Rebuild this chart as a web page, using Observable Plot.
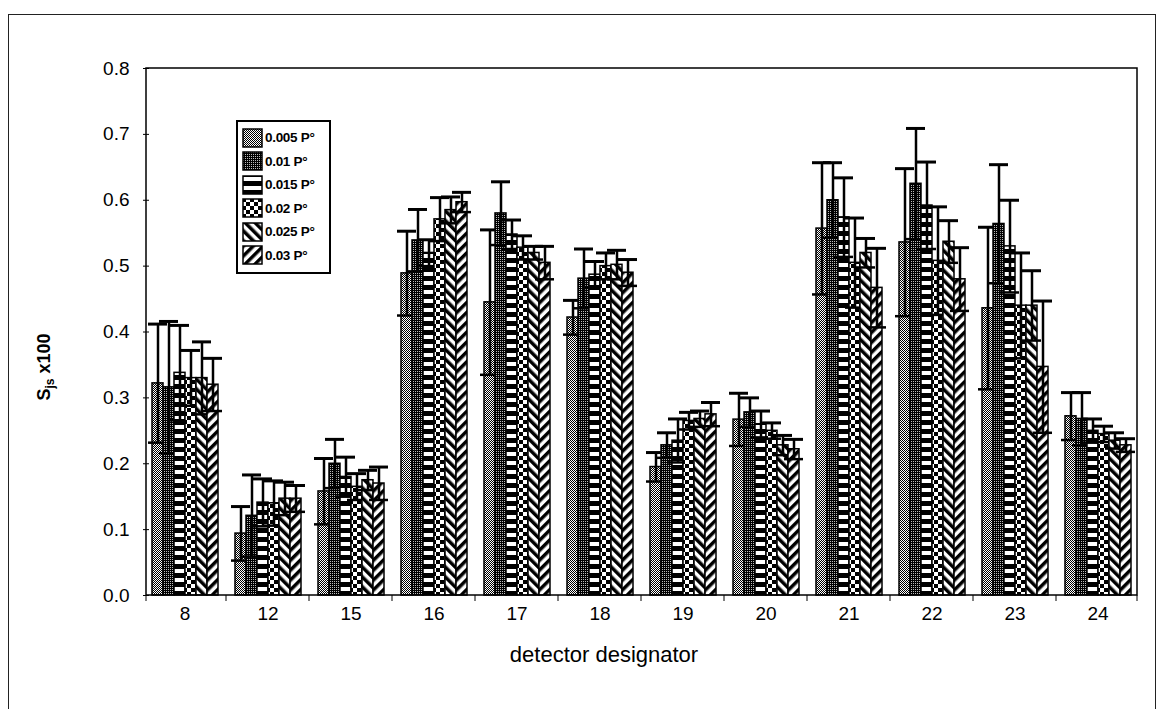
<!DOCTYPE html>
<html>
<head>
<meta charset="utf-8">
<script src="https://cdn.jsdelivr.net/npm/d3@7"></script>
<script src="https://cdn.jsdelivr.net/npm/@observablehq/plot@0.6"></script>
<style>
  body { margin: 0; background: #fff; font-family: "Liberation Sans", Arial, sans-serif; }
  #wrap { position: relative; width: 1165px; height: 709px; overflow: hidden; background: #fff; }
  #outer { position: absolute; left: 8px; top: 14px; width: 1148px; height: 720px; border: 1px solid #222; box-sizing: border-box; }
  #chart { position: absolute; left: 0; top: 0; }
  #legend { position: absolute; left: 236px; top: 120px; width: 95px; height: 154px; border: 2px solid #000; background: #fff; box-sizing: border-box; padding-top: 4px; }
  .lrow { display: flex; align-items: center; height: 23.5px; padding-left: 4px; }
  .lrow svg { margin-right: 2px; flex: none; }
  .lrow span { font-weight: bold; font-size: 13.5px; color: #000; letter-spacing: -0.3px; white-space: nowrap; }
  #ylabel { position: absolute; left: -56px; top: 355px; width: 200px; height: 24px; line-height: 24px; text-align: center; font-weight: bold; font-size: 18px; transform: rotate(-90deg); color: #000; }
  #ylabel sub { font-size: 12px; vertical-align: -4px; line-height: 0; }
  #xlabel { position: absolute; left: 404px; top: 642px; width: 400px; text-align: center; font-size: 22px; color: #000; }
</style>
</head>
<body>
<div id="wrap">
  <div id="outer"></div>
  <div id="chart"></div>
  <div id="legend"></div>
  <div id="ylabel">S<sub>js</sub> x100</div>
  <div id="xlabel">detector designator</div>
</div>
<script>
// ---- data ----
const detectors = ["8", "12", "15", "16", "17", "18", "19", "20", "21", "22", "23", "24"];
const seriesNames = ["0.005 P°", "0.01 P°", "0.015 P°", "0.02 P°", "0.025 P°", "0.03 P°"];

const val005 = [0.322, 0.094, 0.158, 0.489, 0.445, 0.422, 0.195, 0.267, 0.557, 0.536, 0.436, 0.272];
const err005 = [0.090, 0.041, 0.050, 0.064, 0.110, 0.026, 0.022, 0.040, 0.100, 0.112, 0.123, 0.036];
const val01  = [0.316, 0.121, 0.200, 0.539, 0.580, 0.481, 0.228, 0.278, 0.600, 0.625, 0.564, 0.268];
const err01  = [0.100, 0.062, 0.037, 0.047, 0.048, 0.045, 0.019, 0.022, 0.057, 0.084, 0.090, 0.040];
const val015 = [0.338, 0.141, 0.180, 0.520, 0.548, 0.487, 0.235, 0.260, 0.574, 0.592, 0.530, 0.250];
const err015 = [0.072, 0.036, 0.030, 0.020, 0.022, 0.020, 0.033, 0.020, 0.060, 0.066, 0.070, 0.018];
const val02  = [0.330, 0.140, 0.165, 0.571, 0.528, 0.500, 0.265, 0.250, 0.505, 0.508, 0.440, 0.245];
const err02  = [0.042, 0.034, 0.020, 0.033, 0.018, 0.020, 0.013, 0.012, 0.068, 0.082, 0.080, 0.012];
const val025 = [0.330, 0.147, 0.175, 0.585, 0.520, 0.502, 0.268, 0.228, 0.520, 0.537, 0.440, 0.235];
const err025 = [0.055, 0.025, 0.015, 0.020, 0.010, 0.022, 0.012, 0.015, 0.022, 0.032, 0.053, 0.012];
const val03  = [0.320, 0.147, 0.170, 0.597, 0.505, 0.490, 0.275, 0.222, 0.467, 0.480, 0.347, 0.228];
const err03  = [0.040, 0.020, 0.025, 0.015, 0.025, 0.020, 0.018, 0.015, 0.060, 0.048, 0.100, 0.010];

const seriesValues = [val005, val01, val015, val02, val025, val03];
const seriesErrors = [err005, err01, err015, err02, err025, err03];

// ---- table for Plot ----
const rows = [];
seriesNames.forEach((s, i) => {
  detectors.forEach((d, j) => {
    rows.push({ det: d, series: s, value: seriesValues[i][j], err: seriesErrors[i][j] });
  });
});

// ---- marks: each series drawn as bar + error bar so later series overlay earlier ones ----
const marks = [];
seriesNames.forEach((s, i) => {
  const sub = rows.filter(r => r.series === s);
  marks.push(Plot.barY(sub, { fx: "det", x: "series", y: "value", fill: `url(#pat${i})`, stroke: "black", strokeWidth: 1.5 }));
  marks.push(Plot.ruleX(sub, { fx: "det", x: "series", y1: d => d.value - d.err, y2: d => d.value + d.err, stroke: "black", strokeWidth: 2.5 }));
  marks.push(Plot.tickY(sub, { fx: "det", x: "series", y: d => d.value + d.err, stroke: "black", strokeWidth: 3, insetLeft: -4, insetRight: -4 }));
  marks.push(Plot.tickY(sub, { fx: "det", x: "series", y: d => d.value - d.err, stroke: "black", strokeWidth: 2.5, insetLeft: -4, insetRight: -4 }));
});

const plot = Plot.plot({
  width: 1165,
  height: 709,
  marginLeft: 146,
  marginRight: 28,
  marginTop: 68,
  marginBottom: 114,
  style: { fontFamily: '"Liberation Sans", Arial, sans-serif', fontSize: "19px", background: "transparent", color: "black", overflow: "visible" },
  fx: { domain: detectors, paddingInner: 0.14, paddingOuter: 0.02, axis: "bottom", label: null, tickSize: 0, tickPadding: 11 },
  x: { domain: seriesNames, axis: null, padding: 0 },
  y: { domain: [0, 0.8], ticks: 8, tickFormat: d => d.toFixed(1), label: null, tickSize: 6, tickPadding: 14 },
  marks
});

// ---- patterns ----
const svg = d3.select(plot);
const defs = svg.insert("defs", ":first-child");
function pat(id, w, h, draw, transform) {
  const p = defs.append("pattern").attr("id", id).attr("patternUnits", "userSpaceOnUse").attr("width", w).attr("height", h);
  if (transform) p.attr("patternTransform", transform);
  draw(p);
}
// 0.005: fine gray lattice
pat("pat0", 2, 2, p => {
  p.append("rect").attr("width", 2).attr("height", 2).attr("fill", "#fff");
  p.append("rect").attr("x", 0).attr("y", 0).attr("width", 1).attr("height", 1).attr("fill", "#000");
  p.append("rect").attr("x", 1).attr("y", 1).attr("width", 1).attr("height", 1).attr("fill", "#000");
});
// 0.01: dark stipple
pat("pat1", 2, 2, p => {
  p.append("rect").attr("width", 2).attr("height", 2).attr("fill", "#000");
  p.append("rect").attr("x", 1).attr("y", 1).attr("width", 1).attr("height", 1).attr("fill", "#bbb");
});
// 0.015: horizontal white dashes on black
pat("pat2", 10, 9, p => {
  p.append("rect").attr("width", 10).attr("height", 9).attr("fill", "#000");
  p.append("rect").attr("x", 0).attr("y", 2).attr("width", 10).attr("height", 4).attr("fill", "#fff");
});
// 0.02: checkerboard
pat("pat3", 8, 8, p => {
  p.append("rect").attr("width", 8).attr("height", 8).attr("fill", "#fff");
  p.append("rect").attr("x", 0).attr("y", 0).attr("width", 4).attr("height", 4).attr("fill", "#000");
  p.append("rect").attr("x", 4).attr("y", 4).attr("width", 4).attr("height", 4).attr("fill", "#000");
});
// 0.025: "\" stripes
pat("pat4", 7, 7, p => {
  p.append("rect").attr("width", 7).attr("height", 7).attr("fill", "#fff");
  p.append("rect").attr("width", 3.5).attr("height", 7).attr("fill", "#000");
}, "rotate(-45)");
// 0.03: "/" stripes
pat("pat5", 7, 7, p => {
  p.append("rect").attr("width", 7).attr("height", 7).attr("fill", "#fff");
  p.append("rect").attr("width", 3.5).attr("height", 7).attr("fill", "#000");
}, "rotate(45)");

// ---- frame and category boundary ticks from the library's scales ----
const fxS = plot.scale("fx");
const yS = plot.scale("y");
const [fxLeft, fxRight] = fxS.range;
const yBottom = yS.apply(0), yTop = yS.apply(0.8);
const bw = fxS.bandwidth;
const bounds = [fxLeft];
for (let i = 0; i < detectors.length - 1; i++) {
  bounds.push((fxS.apply(detectors[i]) + bw + fxS.apply(detectors[i + 1])) / 2);
}
bounds.push(fxRight);
const g = svg.append("g");
g.selectAll("line.bt").data(bounds).join("line")
  .attr("x1", d => d).attr("x2", d => d).attr("y1", yBottom).attr("y2", yBottom + 6)
  .attr("stroke", "black").attr("stroke-width", 1);
g.append("rect")
  .attr("x", fxLeft).attr("y", yTop).attr("width", fxRight - fxLeft).attr("height", yBottom - yTop)
  .attr("fill", "none").attr("stroke", "black").attr("stroke-width", 1.5);

document.getElementById("chart").appendChild(plot);

// ---- legend (inside the plot, as in the reference) ----
const legend = document.getElementById("legend");
seriesNames.forEach((s, i) => {
  const row = document.createElement("div");
  row.className = "lrow";
  row.innerHTML = `<svg width="21" height="20"><rect x="1" y="1" width="19" height="18" fill="url(#pat${i})" stroke="black" stroke-width="1.5"></rect></svg><span>${s}</span>`;
  legend.appendChild(row);
});
</script>
</body>
</html>
